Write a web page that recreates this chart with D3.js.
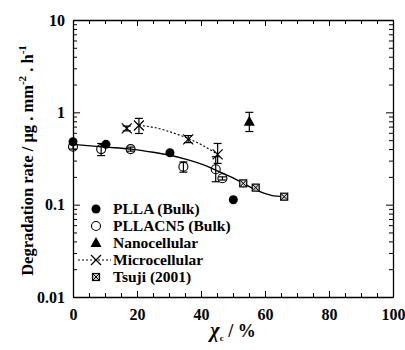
<!DOCTYPE html>
<html>
<head>
<meta charset="utf-8">
<script src="https://cdn.jsdelivr.net/npm/d3@7"></script>
<style>
  body { margin: 0; background: #fff; }
</style>
</head>
<body>
<svg id="chart" width="405" height="350"></svg>
<script>
// data (x = crystallinity %, y = degradation rate)
const pllaX = [0, 10.3, 30.3, 50.1];
const pllaY = [0.48, 0.45, 0.365, 0.113];

const cn5X = [0, 8.8, 18, 34.5, 44.6, 46.7];
const cn5Y = [0.425, 0.40, 0.40, 0.258, 0.242, 0.193];
const cn5Lo = [0.40, 0.34, 0.38, 0.225, 0.177, 0.185];
const cn5Hi = [0.45, 0.46, 0.42, 0.29, 0.33, 0.20];

const nanoX = [55.1];
const nanoY = [0.79];
const nanoLo = [0.62];
const nanoHi = [1.0];

const microX = [16.8, 20.6, 36, 45.2];
const microY = [0.67, 0.72, 0.51, 0.35];
const microLo = [0.63, 0.59, 0.47, 0.28];
const microHi = [0.71, 0.86, 0.56, 0.46];

const tsujiX = [53.2, 57.1, 66];
const tsujiY = [0.17, 0.153, 0.122];

// fitted guide lines
const fitX = [0, 10, 18, 25, 30, 36, 42, 46, 50, 54, 58, 62, 66];
const fitY = [0.45, 0.42, 0.40, 0.37, 0.345, 0.305, 0.26, 0.225, 0.195, 0.165, 0.14, 0.126, 0.122];
const microFitX = [20.6, 25, 30, 36, 41, 45.2];
const microFitY = [0.72, 0.69, 0.62, 0.52, 0.43, 0.35];

const xTicks = [0, 20, 40, 60, 80, 100];
const yTicks = [0.01, 0.1, 1, 10];
const yTickLabels = ["0.01", "0.1", "1", "10"];

const legendLabels = ["PLLA (Bulk)", "PLLACN5 (Bulk)", "Nanocellular", "Microcellular", "Tsuji (2001)"];

const FONT = "Liberation Serif";
const svg = d3.select("#chart");
const m = { left: 73, right: 393, top: 20, bottom: 297 };

const x = d3.scaleLinear().domain([0, 100]).range([m.left, m.right]);
const y = d3.scaleLog().domain([0.01, 10]).range([m.bottom, m.top]);

// minor tick values
const xMinor = d3.range(0, 101, 5).filter(v => v % 20 !== 0);
const yMinor = [];
[0.01, 0.1, 1].forEach(d => { for (let k = 2; k <= 9; k++) yMinor.push(d * k); });

function styleAxis(g) {
  g.attr("font-family", FONT).attr("font-weight", "bold");
  g.select(".domain").attr("stroke", "#000").attr("stroke-width", 1.3);
  g.selectAll(".tick line").attr("stroke", "#000").attr("stroke-width", 1);
  g.selectAll("text").attr("font-size", 16).attr("fill", "#000")
    .attr("font-family", FONT).attr("font-weight", "bold");
}

// bottom
svg.append("g").attr("transform", `translate(0,${m.bottom})`)
  .call(d3.axisBottom(x).tickValues(xTicks).tickSizeInner(-6).tickSizeOuter(0).tickPadding(12).tickFormat(d3.format("d")))
  .call(styleAxis);
svg.append("g").attr("transform", `translate(0,${m.bottom})`)
  .call(d3.axisBottom(x).tickValues(xMinor).tickSizeInner(-4).tickSizeOuter(0).tickFormat(""))
  .call(styleAxis).call(g => g.select(".domain").remove());
// top
svg.append("g").attr("transform", `translate(0,${m.top})`)
  .call(d3.axisTop(x).tickValues(xTicks).tickSizeInner(-6).tickSizeOuter(0).tickFormat(""))
  .call(styleAxis);
svg.append("g").attr("transform", `translate(0,${m.top})`)
  .call(d3.axisTop(x).tickValues(xMinor).tickSizeInner(-4).tickSizeOuter(0).tickFormat(""))
  .call(styleAxis).call(g => g.select(".domain").remove());
// left
svg.append("g").attr("transform", `translate(${m.left},0)`)
  .call(d3.axisLeft(y).tickValues(yTicks).tickSizeInner(-7).tickSizeOuter(0).tickPadding(8)
    .tickFormat((d, i) => yTickLabels[i]))
  .call(styleAxis);
svg.append("g").attr("transform", `translate(${m.left},0)`)
  .call(d3.axisLeft(y).tickValues(yMinor).tickSizeInner(-4).tickSizeOuter(0).tickFormat(""))
  .call(styleAxis).call(g => g.select(".domain").remove());
// right
svg.append("g").attr("transform", `translate(${m.right},0)`)
  .call(d3.axisRight(y).tickValues(yTicks).tickSizeInner(-7).tickSizeOuter(0).tickFormat(""))
  .call(styleAxis);
svg.append("g").attr("transform", `translate(${m.right},0)`)
  .call(d3.axisRight(y).tickValues(yMinor).tickSizeInner(-4).tickSizeOuter(0).tickFormat(""))
  .call(styleAxis).call(g => g.select(".domain").remove());

// axis titles
const yt = svg.append("text")
  .attr("transform", `translate(33,${(m.top + m.bottom) / 2 + 2}) rotate(-90)`)
  .attr("text-anchor", "middle").attr("font-size", 16.5).attr("fill", "#000")
  .attr("font-family", FONT).attr("font-weight", "bold");
yt.append("tspan").text("Degradation rate / μg . mm");
yt.append("tspan").attr("dy", -7).attr("font-size", 11).text("-2");
yt.append("tspan").attr("dy", 7).text("  . h");
yt.append("tspan").attr("dy", -7).attr("font-size", 11).text("-1");

const xt = svg.append("text")
  .attr("x", (m.left + m.right) / 2).attr("y", 337)
  .attr("text-anchor", "middle").attr("font-size", 18).attr("fill", "#000")
  .attr("font-family", FONT).attr("font-weight", "bold");
xt.append("tspan").attr("font-style", "italic").attr("font-size", 20).text("χ");
xt.append("tspan").attr("dy", 4).attr("font-size", 9).text("c");
xt.append("tspan").attr("dy", -4).text(" / %");

// guide lines
const line = d3.line().x(d => x(d[0])).y(d => y(d[1])).curve(d3.curveMonotoneX);
svg.append("path").datum(fitX.map((v, i) => [v, fitY[i]]))
  .attr("d", line).attr("fill", "none").attr("stroke", "#000").attr("stroke-width", 1.4);
svg.append("path").datum(microFitX.map((v, i) => [v, microFitY[i]]))
  .attr("d", line).attr("fill", "none").attr("stroke", "#000").attr("stroke-width", 1.1)
  .attr("stroke-dasharray", "2,2");

// error bars
function errorBars(xs, lo, hi) {
  const g = svg.append("g").attr("stroke", "#000").attr("stroke-width", 1.2);
  xs.forEach((v, i) => {
    const px = x(v);
    g.append("line").attr("x1", px).attr("x2", px).attr("y1", y(lo[i])).attr("y2", y(hi[i]));
    g.append("line").attr("x1", px - 4).attr("x2", px + 4).attr("y1", y(lo[i])).attr("y2", y(lo[i]));
    g.append("line").attr("x1", px - 4).attr("x2", px + 4).attr("y1", y(hi[i])).attr("y2", y(hi[i]));
  });
}
errorBars(cn5X, cn5Lo, cn5Hi);
errorBars(nanoX, nanoLo, nanoHi);
errorBars(microX, microLo, microHi);

// marker drawers
function filledCircle(g, px, py) { g.append("circle").attr("cx", px).attr("cy", py).attr("r", 4.5).attr("fill", "#000"); }
function openCircle(g, px, py) { g.append("circle").attr("cx", px).attr("cy", py).attr("r", 4.5).attr("fill", "none").attr("stroke", "#000").attr("stroke-width", 1.1); }
function triangle(g, px, py) {
  g.append("path").attr("d", `M${px},${py - 6}L${px + 5.5},${py + 4}L${px - 5.5},${py + 4}Z`).attr("fill", "#000");
}
function cross(g, px, py) {
  g.append("path").attr("d", `M${px - 5},${py - 5}L${px + 5},${py + 5}M${px - 5},${py + 5}L${px + 5},${py - 5}`)
    .attr("stroke", "#000").attr("stroke-width", 1.2);
}
function boxX(g, px, py) {
  g.append("rect").attr("x", px - 3.5).attr("y", py - 3.5).attr("width", 7).attr("height", 7)
    .attr("fill", "#ccc").attr("stroke", "#000").attr("stroke-width", 1.2);
  g.append("path").attr("d", `M${px - 3},${py - 3}L${px + 3},${py + 3}M${px - 3},${py + 3}L${px + 3},${py - 3}`)
    .attr("stroke", "#000").attr("stroke-width", 1);
}

const pts = svg.append("g");
pllaX.forEach((v, i) => filledCircle(pts, x(v), y(pllaY[i])));
cn5X.forEach((v, i) => openCircle(pts, x(v), y(cn5Y[i])));
nanoX.forEach((v, i) => triangle(pts, x(v), y(nanoY[i])));
microX.forEach((v, i) => cross(pts, x(v), y(microY[i])));
tsujiX.forEach((v, i) => boxX(pts, x(v), y(tsujiY[i])));

// legend
const lg = svg.append("g");
const drawers = [filledCircle, openCircle, triangle, cross, boxX];
legendLabels.forEach((lab, i) => {
  const ly = 209 + i * 17;
  if (i === 3) {
    lg.append("line").attr("x1", 78).attr("x2", 111).attr("y1", ly).attr("y2", ly)
      .attr("stroke", "#000").attr("stroke-width", 1.1).attr("stroke-dasharray", "2,2");
  }
  drawers[i](lg, 96, ly);
  lg.append("text").attr("x", 113).attr("y", ly + 5).attr("font-size", 15.5).attr("fill", "#000")
    .attr("font-family", FONT).attr("font-weight", "bold").text(lab);
});
</script>
</body>
</html>
